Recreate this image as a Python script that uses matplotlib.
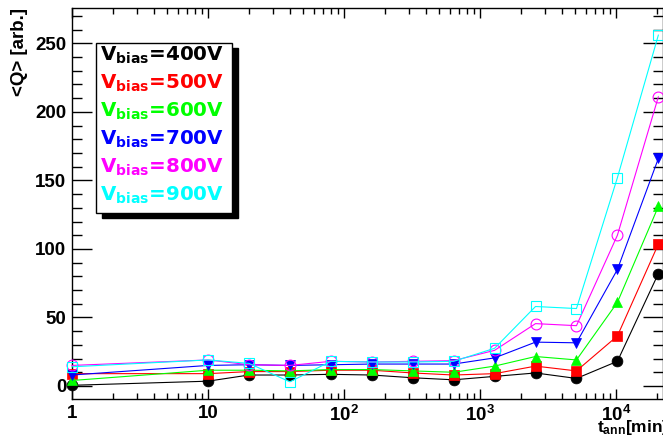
import matplotlib
matplotlib.use('Agg')
import matplotlib.pyplot as plt
from matplotlib.patches import Rectangle
from matplotlib.ticker import FixedLocator, FixedFormatter, LogLocator, MultipleLocator

plt.rcParams['mathtext.fontset'] = 'custom'
plt.rcParams['mathtext.rm'] = 'Liberation Sans:bold'
plt.rcParams['mathtext.bf'] = 'Liberation Sans:bold'
plt.rcParams['font.family'] = ['Liberation Sans', 'DejaVu Sans']

# annealing time [min]
t_ann = [1, 10, 20, 40, 80, 160, 320, 640, 1280, 2560, 5120, 10240, 20480]

# mean collected charge per bias voltage
q_400 = [0.5, 3.5, 8, 8, 8.5, 8, 6, 4.5, 7, 9.5, 5.5, 18, 82]
q_500 = [9, 9, 10.5, 10.5, 11.5, 11.5, 9.5, 8, 9, 14.5, 11, 36.5, 103.5]
q_600 = [4, 11.5, 11.5, 11, 12, 12, 11, 10, 14.5, 21.5, 19, 61, 131]
q_700 = [8, 15, 15.5, 15, 15.5, 16, 16, 16, 20.5, 32, 31.5, 85, 166]
q_800 = [15, 19, 15.5, 15, 18, 17.5, 18, 18.5, 26, 45.5, 44, 110, 211]
q_900 = [14, 19, 16.5, 3, 18, 17.5, 17.5, 18, 27.5, 58, 56.5, 152, 256]

bias_labels = ['400V', '500V', '600V', '700V', '800V', '900V']

x_ticks = [1, 10, 100, 1000, 10000]
x_tick_labels = ['1', '10', r'$\mathbf{10^{2}}$', r'$\mathbf{10^{3}}$', r'$\mathbf{10^{4}}$']

series = [q_400, q_500, q_600, q_700, q_800, q_900]
colors = ['#000000', '#ff0000', '#00ff00', '#0000ff', '#ff00ff', '#00ffff']
markers = ['o', 's', '^', 'v', 'o', 's']
filled = [True, True, True, True, False, False]

fig = plt.figure(figsize=(6.63, 4.40), dpi=100)
ax = fig.add_axes([72 / 663, 41 / 440, 591 / 663, 391 / 440])

for q, c, m, f in zip(series, colors, markers, filled):
    ax.plot(t_ann, q, color=c, lw=0.8, marker=m, ms=7.8,
            markerfacecolor=c if f else 'none', markeredgecolor=c,
            markeredgewidth=0.8 if not f else 0.5, clip_on=False, zorder=3)

ax.set_xscale('log')
ax.set_xlim(1, 22160)
ax.set_ylim(-9.5, 275.8)

ax.xaxis.set_major_locator(FixedLocator(x_ticks))
ax.xaxis.set_major_formatter(FixedFormatter(x_tick_labels))
ax.xaxis.set_minor_locator(LogLocator(base=10, subs=range(2, 10), numticks=20))
ax.xaxis.set_minor_formatter(FixedFormatter([]))
ax.yaxis.set_major_locator(MultipleLocator(50))
ax.yaxis.set_minor_locator(MultipleLocator(10))

ax.tick_params(which='both', direction='in', top=True, right=True, width=1.0)
ax.tick_params(axis='y', which='major', length=14.4, pad=4, labelsize=13.5)
ax.tick_params(axis='y', which='minor', length=7.2)
ax.tick_params(axis='x', which='major', length=7.5, pad=4, labelsize=13.5)
ax.tick_params(axis='x', which='minor', length=4)
for lab in ax.get_xticklabels() + ax.get_yticklabels():
    lab.set_fontweight('bold')
for s in ax.spines.values():
    s.set_linewidth(1.0)

fig.text(20 / 663, 1 - 8 / 440, '<Q> [arb.]', rotation=90, ha='center', va='top',
         fontsize=13.5, fontweight='bold')
fig.text(1.008, 8 / 440, r'$\mathbf{t_{ann}}$[min]', ha='right', va='baseline',
         fontsize=12.5, fontweight='bold')

# legend box with ROOT-like shadow
bx0, bx1, by0, by1 = 96 / 663, 232 / 663, 1 - 213 / 440, 1 - 43 / 440
fig.patches.append(Rectangle((bx0 + 6 / 663, by0 - 5 / 440), bx1 - bx0, by1 - by0,
                             transform=fig.transFigure, facecolor='black',
                             edgecolor='black', zorder=5))
fig.patches.append(Rectangle((bx0, by0), bx1 - bx0, by1 - by0,
                             transform=fig.transFigure, facecolor='white',
                             edgecolor='black', lw=1.0, zorder=6))
for i, (lab, c) in enumerate(zip(bias_labels, colors)):
    fig.text(100 / 663, 1 - (61 + 28 * i) / 440, r'$\mathbf{V}_{\mathbf{bias}}$=' + lab,
             color=c, fontsize=14.3, fontweight='bold', family='DejaVu Sans',
             math_fontfamily='dejavusans', ha='left', va='baseline', zorder=7)

fig.savefig('out.png', dpi=100)
